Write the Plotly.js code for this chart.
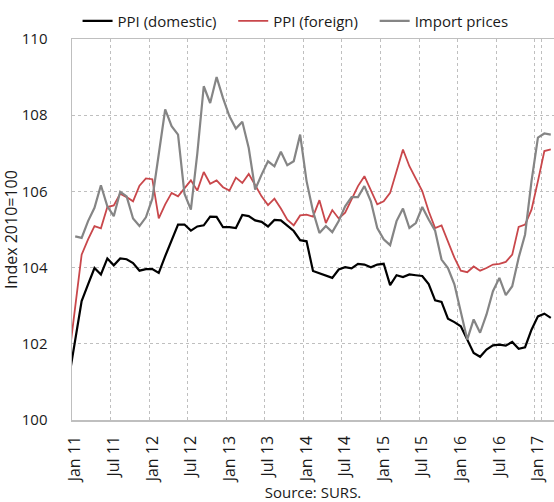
<!DOCTYPE html>
<html>
<head>
<meta charset="utf-8">
<script src="https://cdn.plot.ly/plotly-3.0.1.min.js"></script>
<style>html,body{margin:0;padding:0;background:#fff;}#chart{width:554px;height:502px;}</style>
</head>
<body>
<div id="chart"></div>
<script>
// Monthly categories Dec 2010 .. Mar 2017 (Dec 2010 lies just outside the visible range)
const monthNames = ["Jan","Feb","Mar","Apr","May","Jun","Jul","Aug","Sep","Oct","Nov","Dec"];
const months = ["Dec 10"];
for (let y = 11; y <= 17; y++) {
  for (let m = 0; m < 12; m++) {
    if (y === 17 && m > 2) break;
    months.push(monthNames[m] + " " + y);
  }
}
const tickLabels = ["Jan 11","Jul 11","Jan 12","Jul 12","Jan 13","Jul 13","Jan 14","Jul 14","Jan 15","Jul 15","Jan 16","Jul 16","Jan 17"];
const seriesNames = ["PPI (domestic)", "PPI (foreign)", "Import prices"];

const ppiDomestic = [101.08,
  102.07,103.12,103.56,103.99,103.82,104.24,104.06,104.24,104.22,104.12,103.92,103.96,
  103.96,103.86,104.30,104.72,105.13,105.13,104.97,105.08,105.11,105.34,105.33,105.06,
  105.06,105.04,105.38,105.35,105.24,105.20,105.08,105.25,105.24,105.10,104.96,104.72,
  104.69,103.91,103.85,103.77,103.73,103.95,104.01,103.98,104.10,104.08,104.01,104.08,
  104.10,103.54,103.80,103.75,103.82,103.80,103.78,103.57,103.14,103.10,102.66,102.57,
  102.46,102.11,101.76,101.66,101.85,101.96,101.98,101.95,102.05,101.87,101.91,102.37,
  102.72,102.79,102.68];

const ppiForeign = [101.6,
  103.00,104.34,104.74,105.09,105.03,105.59,105.63,105.94,105.85,105.74,106.15,106.34,
  106.32,105.29,105.66,105.96,105.87,106.09,106.29,106.02,106.51,106.20,106.29,106.11,
  106.02,106.36,106.22,106.46,106.18,105.87,105.64,105.81,105.55,105.26,105.11,105.37,
  105.39,105.34,105.77,105.17,105.51,105.29,105.44,105.80,106.14,106.40,106.01,105.66,
  105.74,105.96,106.53,107.10,106.66,106.34,106.01,105.48,105.04,105.11,104.69,104.26,
  103.92,103.88,104.03,103.92,103.99,104.08,104.10,104.15,104.34,105.07,105.13,105.52,
  106.27,107.06,107.10];

const importPrices = [null,
  104.82,104.78,105.22,105.57,106.16,105.61,105.35,105.99,105.87,105.29,105.09,105.32,
  105.81,106.97,108.15,107.71,107.49,105.94,105.52,107.00,108.76,108.32,109.00,108.45,
  107.97,107.65,107.83,107.14,106.05,106.44,106.79,106.66,107.04,106.69,106.79,107.49,
  106.27,105.48,104.91,105.09,104.93,105.22,105.61,105.85,105.85,106.14,105.74,105.04,
  104.74,104.59,105.22,105.55,105.04,105.17,105.59,105.26,104.97,104.21,103.99,103.56,
  102.86,102.11,102.64,102.29,102.77,103.38,103.73,103.28,103.51,104.26,104.87,106.27,
  107.41,107.52,107.49];

const FONT = "'Open Sans', 'Noto Sans', sans-serif";
const GRID = "#bfbfbf";
const TXT = "#1a1a1a";
const pad = "\u00a0\u00a0\u00a0";

const traces = [
  {x: months, y: ppiDomestic, name: seriesNames[0] + pad, type: "scatter", mode: "lines",
   line: {color: "#000000", width: 2.2}},
  {x: months, y: ppiForeign, name: seriesNames[1] + pad, type: "scatter", mode: "lines",
   line: {color: "#c9474b", width: 1.8}},
  {x: months, y: importPrices, name: seriesNames[2] + pad, type: "scatter", mode: "lines",
   line: {color: "#858585", width: 2.2}}
];

const layout = {
  width: 554, height: 502,
  margin: {l: 72, r: 0, t: 39, b: 82, pad: 0},
  paper_bgcolor: "#ffffff", plot_bgcolor: "#ffffff",
  font: {family: FONT, size: 15, color: TXT},
  showlegend: true,
  legend: {orientation: "h", xref: "container", yref: "container",
           x: 0.14, y: 0.958, xanchor: "left", yanchor: "middle",
           font: {family: FONT, size: 15, color: TXT}, bgcolor: "rgba(0,0,0,0)"},
  xaxis: {
    type: "category", categoryorder: "array", categoryarray: months,
    range: [0.5, 75.5],
    tickmode: "array", tickvals: tickLabels, ticktext: tickLabels,
    tickson: "boundaries",
    tickangle: -90, ticks: "", ticklabelstandoff: 8,
    showgrid: true, gridcolor: GRID, griddash: "dot", gridwidth: 1,
    showline: true, linecolor: GRID, linewidth: 1.5, mirror: true,
    zeroline: false,
    tickfont: {family: FONT, size: 16, color: TXT},
    title: {text: "Source: SURS.", font: {family: FONT, size: 15, color: TXT}, standoff: 6}
  },
  yaxis: {
    range: [100, 110], tickmode: "linear", tick0: 100, dtick: 2,
    showgrid: true, gridcolor: GRID, griddash: "dot", gridwidth: 1,
    showline: true, linecolor: GRID, linewidth: 1.5, mirror: false,
    zeroline: false, ticks: "", ticklabelstandoff: 20,
    tickfont: {family: FONT, size: 15, color: TXT},
    title: {text: "Index 2010=100", font: {family: FONT, size: 16, color: TXT}, standoff: 0}
  }
};

Plotly.newPlot("chart", traces, layout, {displayModeBar: false, staticPlot: true});
</script>
</body>
</html>
